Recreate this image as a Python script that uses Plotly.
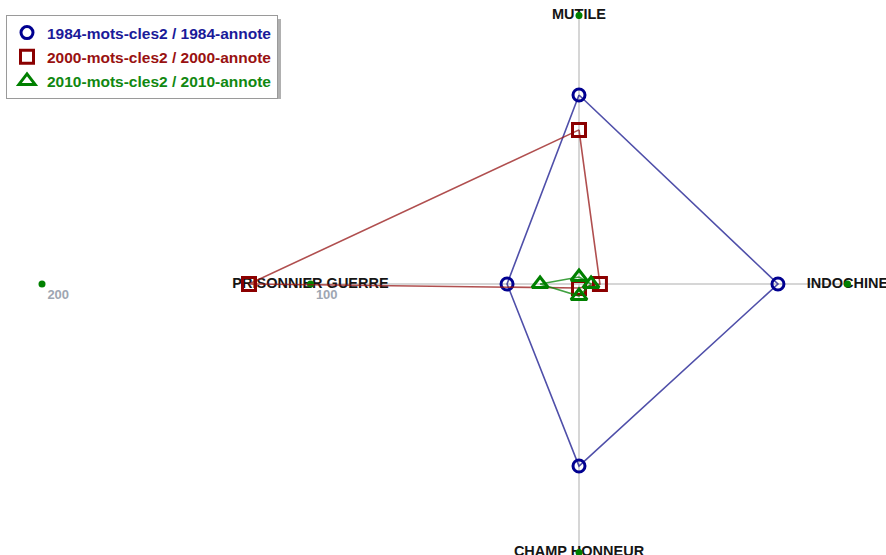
import numpy as np
import plotly.graph_objects as go

categories = ["MUTILE", "INDOCHINE", "CHAMP HONNEUR", "PRISONNIER GUERRE"]
angles_deg = [90, 0, 270, 180]
series_names = ["1984-mots-cles2 / 1984-annote",
                "2000-mots-cles2 / 2000-annote",
                "2010-mots-cles2 / 2010-annote"]
v1984 = [70.4, 74.1, 67.8, 26.8]
v2000 = [57.4, 7.8, 1.5, 122.9]
v2010 = [2.6, 4.5, 4.5, 14.5]
tick_values = [100, 200]
tick_labels = ["100", "200"]
axis_max = 100

ang = np.deg2rad(angles_deg)
FONT = "Liberation Sans, Arial, sans-serif"

def xy(vals, a):
    v = np.asarray(vals, dtype=float)
    return v * np.cos(a), v * np.sin(a)

fig = go.Figure()

# axis lines
for a in ang:
    x, y = xy([0, axis_max], np.array([a, a]))
    fig.add_trace(go.Scatter(x=x, y=y, mode="lines", line=dict(color="#c8c8c8", width=1.5),
                             showlegend=False, hoverinfo="skip"))

# axis labels
lx, ly = xy([axis_max] * 4, ang)
fig.add_trace(go.Scatter(x=lx, y=ly, mode="text", text=categories, textposition="middle center",
                         textfont=dict(family=FONT, size=14.5, color="#151515", weight="bold"),
                         showlegend=False, hoverinfo="skip"))

# end dots on the other axes
dx, dy = xy([axis_max] * 3, ang[:3])
fig.add_trace(go.Scatter(x=dx, y=dy, mode="markers",
                         marker=dict(color="#008000", size=7), showlegend=False, hoverinfo="skip"))
# tick dots + labels on PRISONNIER GUERRE axis
tx, ty = xy(tick_values, np.array([np.pi, np.pi]))
fig.add_trace(go.Scatter(x=tx, y=ty, mode="markers+text", text=tick_labels, textposition="bottom right",
                         marker=dict(color="#008000", size=7),
                         textfont=dict(family=FONT, size=13, color="#9ea6b2", weight="bold"),
                         showlegend=False, hoverinfo="skip"))

styles = [
    dict(vals=v1984, mc="#000090", lc="rgba(20,20,140,0.75)", sym="circle-open", size=12),
    dict(vals=v2000, mc="#8b0000", lc="rgba(150,20,20,0.75)", sym="square-open", size=13),
    dict(vals=v2010, mc="#008000", lc="rgba(0,130,0,0.75)", sym="triangle-up-open", size=14),
]
text_colors = ["#1a1a99", "#991111", "#118811"]
for i, (name, st) in enumerate(zip(series_names, styles)):
    x, y = xy(st["vals"], ang)
    xc = np.append(x, x[0]); yc = np.append(y, y[0])
    fig.add_trace(go.Scatter(x=xc, y=yc, mode="lines", line=dict(color=st["lc"], width=1.6),
                             showlegend=False, hoverinfo="skip"))
    fig.add_trace(go.Scatter(x=x, y=y, mode="markers",
                             name=f"<span style='color:{text_colors[i]}'>{name}</span>",
                             legendgroup=f"g{i}",
                             marker=dict(symbol=st["sym"], size=st["size"], color=st["mc"],
                                         line=dict(width=3, color=st["mc"]))))

s = 2.685
cx, cy = 579, 284
W, H = 886, 555
# legend shadow
fig.add_shape(type="rect", xref="paper", yref="paper",
              x0=10 / W, x1=281 / W, y0=1 - 99 / H, y1=1 - 19 / H,
              fillcolor="#b0b0b0", line=dict(width=0), layer="above")
fig.update_layout(
    width=W, height=H, margin=dict(l=0, r=0, t=0, b=0),
    paper_bgcolor="white", plot_bgcolor="white",
    xaxis=dict(range=[-cx / s, (W - cx) / s], visible=False, fixedrange=True),
    yaxis=dict(range=[-(H - cy) / s, cy / s], visible=False, fixedrange=True),
    showlegend=True,
    legend=dict(x=6 / W, y=1 - 15 / H, xanchor="left", yanchor="top",
                bgcolor="white", bordercolor="#9a9a9a", borderwidth=1,
                font=dict(family=FONT, size=15.5, color="#000000", weight="bold"),
                tracegroupgap=1, itemwidth=30),
)
fig.write_html("out.html", config={"displayModeBar": False},
               post_script="document.body.style.margin='0';document.body.style.overflow='hidden';")
